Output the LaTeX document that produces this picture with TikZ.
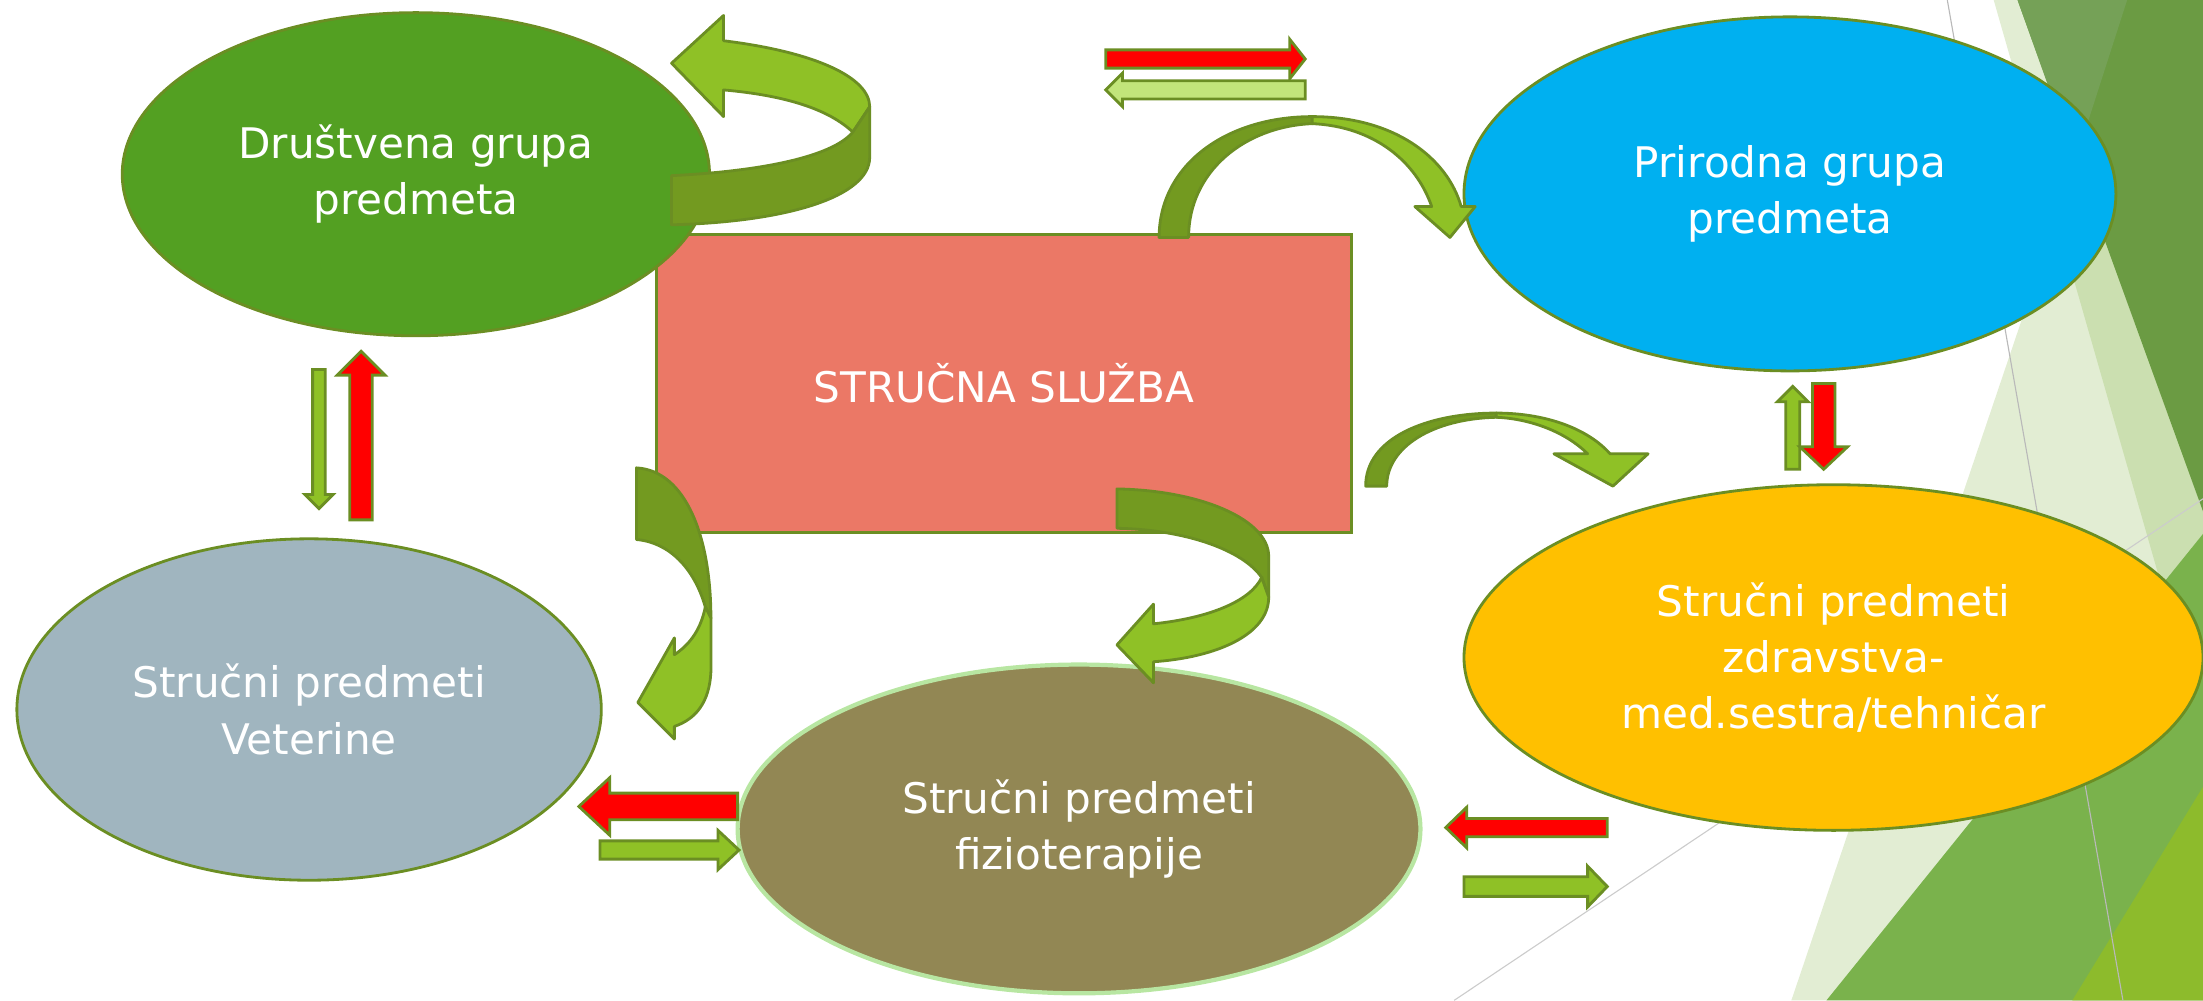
\documentclass[tikz,border=0pt]{standalone}
\usepackage{fontspec}
\setmainfont{DejaVu Sans}
\usepackage{tikz}
\usetikzlibrary{shapes.geometric}

\definecolor{olivebrd}{HTML}{6B8E23}
\definecolor{druzeleno}{HTML}{53A022}
\definecolor{priplava}{HTML}{00B0F0}
\definecolor{sluzbacrv}{HTML}{EB7866}
\definecolor{vetsiva}{HTML}{A0B5BF}
\definecolor{fizsmedja}{HTML}{928754}
\definecolor{fizrub}{HTML}{B8E6A2}
\definecolor{zdrzuta}{HTML}{FFC000}
\definecolor{trakatamna}{HTML}{739A20}
\definecolor{trakasvijetla}{HTML}{8FC126}
\definecolor{blijeda}{HTML}{C2E57A}
\definecolor{pozzeleno}{RGB}{110,165,35}
\definecolor{pozdark}{HTML}{6B9B43}
\definecolor{pozlight}{HTML}{75A157}
\definecolor{pozmid}{HTML}{7AB24C}
\definecolor{pozzuto}{HTML}{8DBB2C}

\tikzset{
  predmet/.style={ellipse, draw=olivebrd, line width=2pt, text=white, align=center,
    inner sep=0pt, font=\fontsize{30}{40}\selectfont},
  strelica/.style={draw=olivebrd, line width=2pt, line join=miter},
  crvena/.style={strelica, fill=red},
  zelena/.style={strelica, fill=trakasvijetla},
  blijedastr/.style={strelica, fill=blijeda},
  tamnatraka/.style={draw=olivebrd, line width=2pt, fill=trakatamna, line join=round},
  svijetlatraka/.style={draw=olivebrd, line width=2pt, fill=trakasvijetla, line join=round}
}

% rep x, vrh x, y, pola tijela, pola glave, duljina glave, stil
\newcommand{\hstrelica}[7]{%
  \draw[#7] (#1,{#3-(#4)}) -- ({#2-(#6)},{#3-(#4)}) -- ({#2-(#6)},{#3-(#5)}) -- (#2,#3)
    -- ({#2-(#6)},{#3+(#5)}) -- ({#2-(#6)},{#3+(#4)}) -- (#1,{#3+(#4)}) -- cycle;}
% x, rep y, vrh y, pola tijela, pola glave, duljina glave, stil
\newcommand{\vstrelica}[7]{%
  \draw[#7] ({#1-(#4)},#2) -- ({#1-(#4)},{#3-(#6)}) -- ({#1-(#5)},{#3-(#6)}) -- (#1,#3)
    -- ({#1+(#5)},{#3-(#6)}) -- ({#1+(#4)},{#3-(#6)}) -- ({#1+(#4)},#2) -- cycle;}

\begin{document}
\begin{tikzpicture}[x=1pt,y=-1pt]
\useasboundingbox (0,0) rectangle (1568,712);

% pozadina
\fill[pozzeleno, opacity=0.2] (1419,0) -- (1568,0) -- (1568,520) -- cycle;
\fill[pozzeleno, opacity=0.2] (1516,0) -- (1568,0) -- (1568,712) -- (1275,712) -- cycle;
\fill[pozdark] (1436,0) -- (1568,0) -- (1568,364) -- cycle;
\fill[pozlight] (1436,0) -- (1514,0) -- (1477,115) -- cycle;
\fill[pozmid] (1568,380) -- (1568,712) -- (1300,712) -- cycle;
\fill[pozzuto] (1568,560) -- (1568,712) -- (1475,712) -- cycle;
\draw[gray!55, line width=0.8pt] (1386,0) -- (1511,712);
\draw[gray!40, line width=0.8pt] (1035,712) -- (1568,355);

% cvorovi
\node[draw=olivebrd, line width=2pt, fill=sluzbacrv, minimum width=495, minimum height=212,
  inner sep=0pt, text=white, font=\fontsize{30}{40}\selectfont] (sluzba) at (714.5,273) {STRUČNA SLUŽBA};
\node[predmet, fill=druzeleno, minimum width=418, minimum height=230] (dru) at (296,124) {Društvena grupa\\predmeta};
\node[predmet, fill=priplava, minimum width=464, minimum height=252] (pri) at (1274,138) {Prirodna grupa\\predmeta};
\node[predmet, fill=vetsiva, minimum width=416, minimum height=243] (vet) at (220,505) {Stručni predmeti\\Veterine};
\node[predmet, fill=fizsmedja, draw=fizrub, line width=3pt, minimum width=486, minimum height=234] (fiz) at (768,590) {Stručni predmeti\\fizioterapije};
\node[predmet, fill=zdrzuta, minimum width=526, minimum height=246] (zdr) at (1305,468) {Stručni predmeti\\zdravstva-\\med.sestra/tehničar};

% zakrivljene strelice
\draw[svijetlatraka] (515,29) .. controls (580,37) and (619,55) .. (619,76) -- (607,94)
  .. controls (590,78) and (560,68) .. (515,64) -- (515,83) -- (478,45) -- (515,11) -- cycle;
\draw[tamnatraka] (478,125) .. controls (540,122) and (592,112) .. (607,94) -- (619,76) -- (619,112)
  .. controls (619,140) and (560,158) .. (478,160) -- cycle;

\draw[tamnatraka] (825,169) .. controls (825,118) and (872,83) .. (934,83) -- (934,88)
  .. controls (886,90) and (846,122) .. (846,169) -- cycle;
\draw[svijetlatraka] (934,83) .. controls (992,83) and (1030,112) .. (1040,147) -- (1050,147) -- (1032,169)
  -- (1007,147) -- (1019,147) .. controls (1008,115) and (978,90) .. (934,88) -- cycle;

\draw[tamnatraka] (972,346) .. controls (972,312) and (1015,294) .. (1065,294) -- (1065,297)
  .. controls (1020,298) and (987,318) .. (987,346) -- cycle;
\draw[svijetlatraka] (1065,294) .. controls (1100,294) and (1130,305) .. (1146,323) -- (1173,323) -- (1148,346)
  -- (1106,323) -- (1130,323) .. controls (1115,308) and (1090,298) .. (1065,297) -- cycle;

\draw[tamnatraka] (453,333) .. controls (488,335) and (506,382) .. (506,440) -- (502,432)
  .. controls (494,404) and (476,386) .. (453,384) -- cycle;
\draw[svijetlatraka] (502,432) -- (506,440) -- (506,478) .. controls (505,500) and (495,512) .. (480,517)
  -- (480,526) -- (454,500) -- (480,454) -- (480,466) .. controls (492,458) and (499,447) .. (502,432) -- cycle;

\draw[tamnatraka] (795,348) .. controls (855,349) and (903,370) .. (903,396) -- (903,425) -- (898,411)
  .. controls (885,392) and (845,377) .. (795,376) -- cycle;
\draw[svijetlatraka] (898,411) -- (903,425) .. controls (903,452) and (865,468) .. (821,471) -- (821,486)
  -- (795,459) -- (821,430) -- (821,444) .. controls (860,440) and (890,428) .. (898,411) -- cycle;

% ravne strelice
\hstrelica{787}{929}{42}{6.5}{14}{11}{crvena}
\hstrelica{929}{787}{64}{6.5}{12}{-12}{blijedastr}
\hstrelica{525}{412}{574}{9.5}{20.5}{-22}{crvena}
\hstrelica{427}{526}{605}{6.5}{14}{15}{zelena}
\hstrelica{1144}{1029}{589}{6.5}{14.5}{-15}{crvena}
\hstrelica{1042}{1144}{631}{7}{14.5}{14}{zelena}
\vstrelica{227}{263}{362}{4.5}{10}{10}{zelena}
\vstrelica{257}{370}{250}{8}{17}{-17}{crvena}
\vstrelica{1276}{334}{275}{5}{11}{-11}{zelena}
\vstrelica{1298}{273}{334}{8}{17}{16}{crvena}
\end{tikzpicture}
\end{document}
